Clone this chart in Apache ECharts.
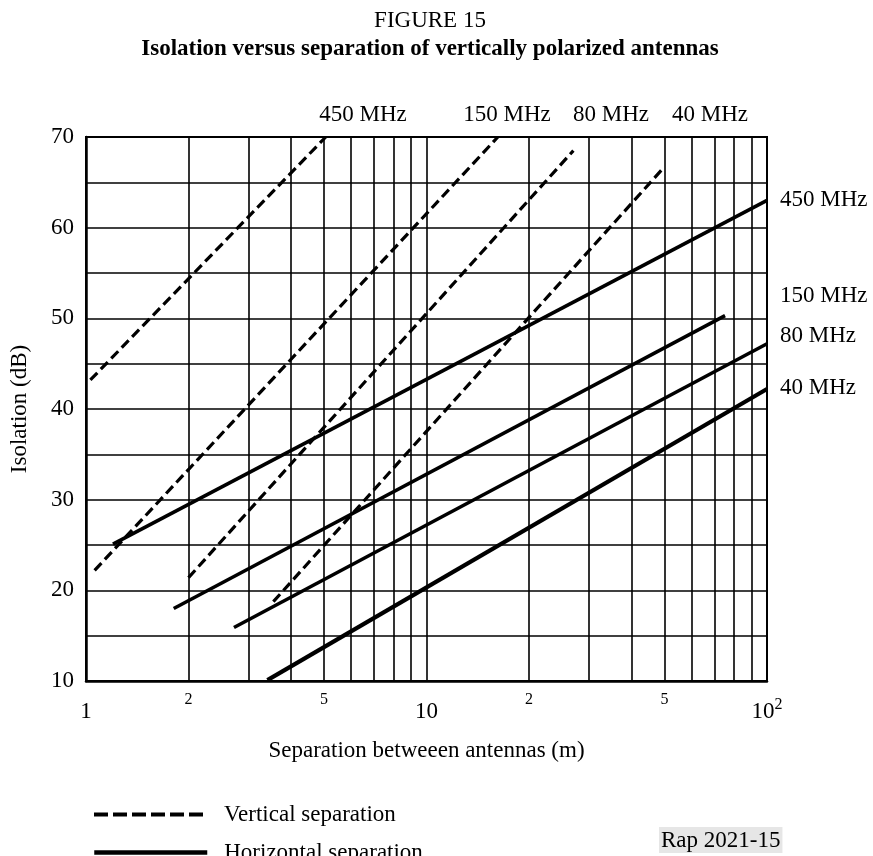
<!DOCTYPE html>
<html>
<head>
<meta charset="utf-8">
<script src="https://cdn.jsdelivr.net/npm/echarts@6/dist/echarts.min.js"></script>
<style>html,body{margin:0;padding:0;background:#fff;}#c{width:873px;height:856px;}</style>
</head>
<body>
<div id="c"></div>
<script>
// ---- data ----
const frequencies = ['450 MHz', '150 MHz', '80 MHz', '40 MHz'];
// vertical separation (dashed): [start, end] separation (m) and isolation (dB)
const verticalSeparation = [[1.03, 5.06], [1.06, 16.2], [2.0, 27.0], [3.55, 49.4]];
const verticalIsolation  = [[43.2, 70.0], [22.2, 70.0], [21.4, 68.5], [18.75, 66.5]];
// horizontal separation (solid)
const horizontalSeparation = [[1.2, 100], [1.81, 75.3], [2.72, 100], [3.41, 100]];
const horizontalIsolation  = [[25.1, 63.0], [18.0, 50.3], [15.9, 47.2], [10.1, 42.2]];
const xGridValues = [1, 2, 3, 4, 5, 6, 7, 8, 9, 10, 20, 30, 40, 50, 60, 70, 80, 90, 100];
const xLabelValues = [1, 2, 5, 10, 20, 50, 100];
const yTickValues = [10, 20, 30, 40, 50, 60, 70];
const legendNames = ['Vertical separation', 'Horizontal separation'];

const FONT = "'Liberation Serif', 'Times New Roman', serif";
const FS = 23;

function pts(xs, ys) { return xs.map((x, i) => [x, ys[i]]); }

const series = [];
frequencies.forEach((f, i) => {
  series.push({
    name: legendNames[0], type: 'line', symbol: 'none', silent: true,
    data: pts(verticalSeparation[i], verticalIsolation[i]),
    itemStyle: { color: '#000' },
    lineStyle: { color: '#000', width: 3.2, type: [10, 5] }
  });
});
frequencies.forEach((f, i) => {
  series.push({
    name: legendNames[1], type: 'line', symbol: 'none', silent: true,
    data: pts(horizontalSeparation[i], horizontalIsolation[i]),
    itemStyle: { color: '#000' },
    lineStyle: { color: '#000', width: i === 3 ? 4.2 : 3.6 }
  });
});

function label(text, x, y, align) {
  return { type: 'text', x: x, y: y, silent: true,
    style: { text: text, font: FS + 'px ' + FONT, fill: '#000', align: align || 'center', verticalAlign: 'middle' } };
}

const legendCommon = {
  orient: 'vertical', left: 87, itemWidth: 113, itemHeight: 14,
  textStyle: { fontFamily: FONT, fontSize: FS, color: '#000', padding: [0, 0, 0, 12] },
  selectedMode: false
};

const chart = echarts.init(document.getElementById('c'), null, { renderer: 'canvas' });
chart.setOption({
  animation: false,
  backgroundColor: '#fff',
  textStyle: { fontFamily: FONT, color: '#000' },
  title: {
    text: 'FIGURE 15',
    subtext: 'Isolation versus separation of vertically polarized antennas',
    left: 425, textAlign: 'center', top: 4, itemGap: 6,
    textStyle: { fontFamily: FONT, fontSize: FS, fontWeight: 'normal', color: '#000' },
    subtextStyle: { fontFamily: FONT, fontSize: FS, fontWeight: 'bold', color: '#000' }
  },
  legend: [
    Object.assign({}, legendCommon, { top: 798,
      data: [{ name: legendNames[0], itemStyle: { opacity: 0 }, lineStyle: { width: 4, type: [14, 5], color: '#000' } }] }),
    Object.assign({}, legendCommon, { top: 836,
      data: [{ name: legendNames[1], itemStyle: { opacity: 0 }, lineStyle: { width: 4.5, color: '#000' } }] })
  ],
  grid: { left: 85, right: 106, top: 137, bottom: 175, show: true, borderColor: '#000', borderWidth: 2 },
  xAxis: {
    type: 'log', logBase: 10, min: 1, max: 100,
    name: 'Separation betweeen antennas (m)', nameLocation: 'middle', nameGap: 58,
    nameTextStyle: { fontFamily: FONT, fontSize: FS, color: '#000' },
    axisLine: { lineStyle: { color: '#000', width: 2.5 } },
    axisTick: { show: false, customValues: xGridValues },
    splitLine: { show: true, lineStyle: { color: '#000', width: 1.6 } },
    axisLabel: {
      customValues: xLabelValues, margin: 8, color: '#000', fontFamily: FONT,
      formatter: function (v) {
        if (v === 1) return '{a|1}';
        if (v === 10) return '{a|10}';
        if (v === 100) return '{a|10}{sup|2}';
        return '{m|' + String(v).charAt(0) + '}';
      },
      rich: {
        a: { fontSize: FS, lineHeight: 46, fontFamily: FONT, color: '#000' },
        sup: { fontSize: 16, lineHeight: 46, padding: [0, 0, 14, 0], fontFamily: FONT, color: '#000' },
        m: { fontSize: 16, lineHeight: 22, fontFamily: FONT, color: '#000' }
      }
    }
  },
  yAxis: {
    type: 'value', min: 10, max: 70, interval: 5,
    name: 'Isolation (dB)', nameLocation: 'middle', nameGap: 55,
    nameTextStyle: { fontFamily: FONT, fontSize: FS, color: '#000' },
    axisLine: { show: true, lineStyle: { color: '#000', width: 2.5 } },
    axisTick: { show: false },
    splitLine: { show: true, lineStyle: { color: '#000', width: 1.6 } },
    axisLabel: {
      margin: 12, fontSize: FS, fontFamily: FONT, color: '#000',
      formatter: v => (yTickValues.indexOf(v) >= 0 ? String(v) : '')
    }
  },
  graphic: [
    label(frequencies[0], 363, 115),
    label(frequencies[1], 507, 115),
    label(frequencies[2], 611, 115),
    label(frequencies[3], 710, 115),
    label(frequencies[0], 780, 200, 'left'),
    label(frequencies[1], 780, 296, 'left'),
    label(frequencies[2], 780, 336, 'left'),
    label(frequencies[3], 780, 388, 'left'),
    { type: 'text', x: 659, y: 827, silent: true,
      style: { text: 'Rap 2021-15', font: FS + 'px ' + FONT, fill: '#000', backgroundColor: '#e6e6e6', padding: [2, 2, 1, 2] } }
  ],
  series: series
});
</script>
</body>
</html>
